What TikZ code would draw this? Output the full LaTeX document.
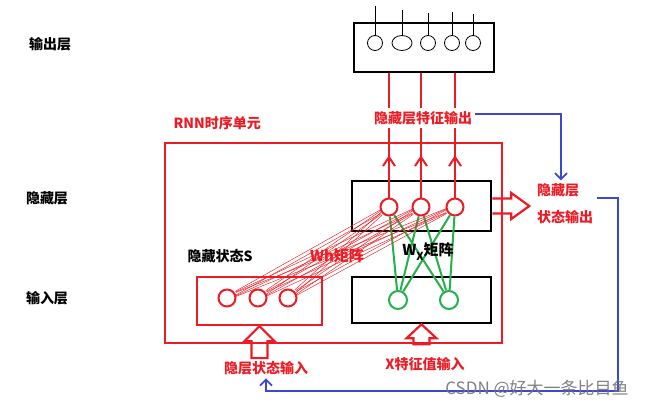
\documentclass[tikz,border=0pt]{standalone}
\usepackage{fontspec}
\setmainfont{Noto Sans CJK SC}
\usepackage{tikz}
\usetikzlibrary{positioning,arrows.meta,decorations.markings,shapes.geometric}

\definecolor{paintred}{RGB}{237,28,36}
\definecolor{paintgreen}{RGB}{34,177,76}
\definecolor{paintblue}{RGB}{63,72,204}

\tikzset{
  layerlabel/.style={font=\fontsize{14}{16}\selectfont\bfseries},
  redlabel/.style={font=\fontsize{14}{16}\selectfont\bfseries, text=paintred},
  blackbox/.style={draw, line width=2.6pt, inner sep=0pt},
  redbox/.style={draw=paintred, line width=2.2pt, inner sep=0pt},
  outneuron/.style={ellipse, draw, line width=0.8pt, minimum width=15pt, minimum height=15pt, inner sep=0pt},
  hidneuron/.style={circle, draw=paintred, line width=2pt, minimum size=17pt, inner sep=0pt},
  inneuron/.style={circle, draw=paintgreen, line width=2pt, minimum size=18pt, inner sep=0pt},
  thinline/.style={line width=0.7pt},
  redline/.style={draw=paintred, line width=2pt},
  uparrow/.style={redline, postaction={decorate}, decoration={markings,
      mark=at position 0.34 with {\arrow{Straight Barb[length=9pt,width=12pt,line width=2pt]}}}},
  whline/.style={draw=paintred, line width=0.45pt},
  wxline/.style={draw=paintgreen, line width=2pt},
  blueline/.style={draw=paintblue, line width=1.8pt},
  hollowarrow/.style={draw=paintred, line width=2.2pt, line join=miter}
}

\begin{document}
\begin{tikzpicture}[x=1pt, y=-1pt]
\useasboundingbox (0,0) rectangle (659,410);

% Beschriftungen der Schichten
\node[layerlabel] (outlayer) at (50,44) {输出层};
\node[layerlabel] (hidlayer) at (47,198) {隐藏层};
\node[layerlabel] (inlayer) at (47,298) {输入层};

% RNN-Zelle
\node[redbox, minimum width=337pt, minimum height=200pt] (rnn) at (333.5,243) {};
\node[redlabel, anchor=west] (rnnlabel) at (170,123) {RNN时序单元};

% Ausgabeschicht
\node[blackbox, minimum width=140pt, minimum height=49pt] (outbox) at (424,47.5) {};
\node[outneuron] (o1) at (375,43) {};
\node[outneuron, minimum width=20pt] (o2) at (402,43) {};
\node[outneuron] (o3) at (428,43) {};
\node[outneuron] (o4) at (452,43) {};
\node[outneuron] (o5) at (473,43) {};
\coordinate (t1) at (375,6);
\coordinate (t2) at (402,10);
\coordinate (t3) at (428,13);
\coordinate (t4) at (452,12);
\coordinate (t5) at (473,14);
\foreach \i in {1,...,5}
  \draw[thinline] (o\i) -- (t\i);

% versteckte Schicht
\node[blackbox, minimum width=139pt, minimum height=50pt] (hidbox) at (421.5,206) {};
\node[hidneuron] (h1) at (389,207) {};
\node[hidneuron] (h2) at (421,207) {};
\node[hidneuron] (h3) at (455,207) {};
\foreach \i in {1,2,3}
  \draw[uparrow] (h\i) -- (h\i |- outbox.south);
\node[redlabel, fill=white, inner sep=3pt] (featout) at (423,118) {隐藏层特征输出};

% Eingabe X
\node[blackbox, minimum width=139pt, minimum height=46pt] (xbox) at (421.5,300) {};
\node[inneuron] (g1) at (398,300) {};
\node[inneuron] (g2) at (449,300) {};
\foreach \i in {1,2}
  \foreach \j in {1,2,3}
    \draw[wxline] (g\i) -- (h\j);
\node[font=\fontsize{15}{17}\selectfont\bfseries] (wxlabel) at (428,252)
  {W\raisebox{-0.6ex}{\fontsize{11}{11}\selectfont X}矩阵};

% versteckter Zustand S
\node[redbox, minimum width=125pt, minimum height=48pt] (sbox) at (259.5,301) {};
\node[hidneuron] (s1) at (227,298) {};
\node[hidneuron] (s2) at (258,298) {};
\node[hidneuron] (s3) at (288,298) {};
\node[layerlabel] (slabel) at (220,256) {隐藏状态S};
\foreach \i in {1,2,3}
  \foreach \j in {1,2,3}
    \foreach \o in {-2,2}
      \draw[whline, transform canvas={yshift=\o pt}] (s\i) -- (h\j);
\node[font=\fontsize{15}{17}\selectfont\bfseries, text=paintred] (whlabel) at (337,256) {Wh矩阵};

% Hohlpfeile
\draw[hollowarrow] (hidbox.east) ++(0,-7.5) -- ++(19,0) -- ++(0,-5.5) -- ++(18,13)
  -- ++(-18,13) -- ++(0,-5.5) -- ++(-19,0);
\draw[hollowarrow] (sbox.south) -- ++(15,15) -- ++(-7,0) -- ++(0,17) -- ++(-16,0)
  -- ++(0,-17) -- ++(-7,0) -- cycle;
\draw[hollowarrow] (xbox.south) -- ++(15,14) -- ++(-7,0) -- ++(0,6) -- ++(-16,0)
  -- ++(0,-6) -- ++(-7,0) -- cycle;

\node[redlabel, align=left, font=\fontsize{14}{27}\selectfont\bfseries] (stateout) at (565,204) {隐藏层\\状态输出};
\node[redlabel] (hinlabel) at (266,368) {隐层状态输入};
\node[redlabel] (xinlabel) at (425,364) {X特征值输入};

% Rueckkopplung (blau)
\coordinate (loopcorner) at (618,391);
\draw[blueline, -{Straight Barb[length=6pt,width=12pt]}] ([yshift=4pt]featout.east) -| ([xshift=-4pt]stateout.north);
\draw[blueline, -{Straight Barb[length=6pt,width=12pt]}] ([yshift=6pt]stateout.east) -| (loopcorner) -| (hinlabel.south);

% Wasserzeichen
\node[font=\fontsize{17}{19}\selectfont, text=black!55, opacity=0.9] (mark) at (537,389) {CSDN @好大一条比目鱼};
\end{tikzpicture}
\end{document}
